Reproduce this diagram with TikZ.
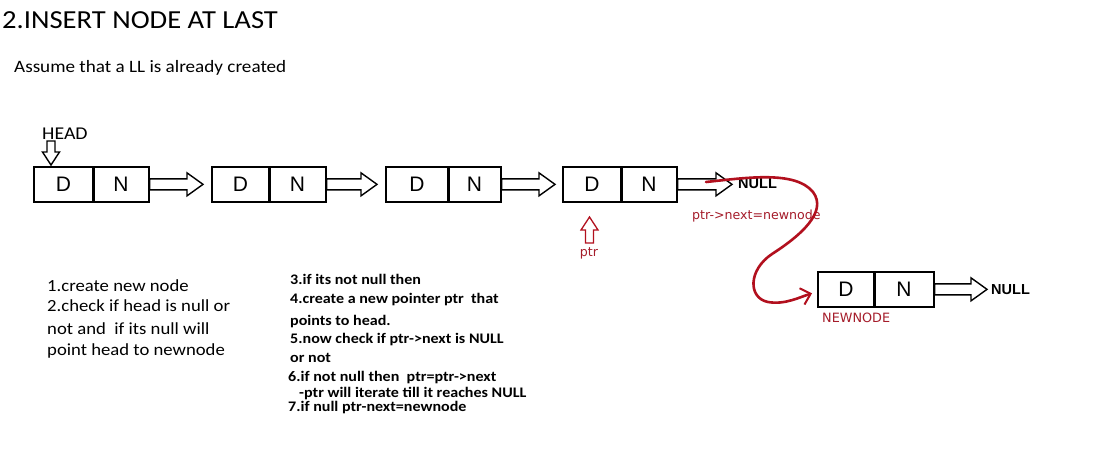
\documentclass[tikz,border=0pt]{standalone}
\usepackage{fontspec}
\setmainfont[FakeStretch=1.1]{Carlito}
\newfontfamily\dejavu{DejaVu Sans}
\newfontfamily\arialf{Liberation Sans}
\usetikzlibrary{arrows.meta,calc}
\definecolor{redc}{RGB}{178,16,30}
\definecolor{redt}{RGB}{165,28,42}
% horizontal hollow block arrow from node #1 (east) to node #2 (west)
\newcommand\harrow[2]{\draw[blk] let \p1=(#1.east),\p2=(#2.west) in
  (\x1,\y1-5.5pt) -- (\x2-16pt,\y1-5.5pt) -- (\x2-16pt,\y1-11.5pt) -- (\x2,\y1)
  -- (\x2-16pt,\y1+11.5pt) -- (\x2-16pt,\y1+5.5pt) -- (\x1,\y1+5.5pt) -- cycle;}
% vertical hollow block arrow from coordinate #1 (tail) to #2 (tip), #3 style
\newcommand\varrow[3]{\draw[blk,#3] let \p1=(#1),\p2=(#2),\n1={(\y2>\y1)?1:-1} in
  (\x1-4pt,\y1) -- (\x1-4pt,\y2-\n1*13pt) -- (\x1-8.5pt,\y2-\n1*13pt) -- (\x2,\y2)
  -- (\x1+8.5pt,\y2-\n1*13pt) -- (\x1+4pt,\y2-\n1*13pt) -- (\x1+4pt,\y1) -- cycle;}
\begin{document}
\begin{tikzpicture}[x=1pt,y=-1pt,
  half/.style={draw,line width=1.7pt,minimum height=35pt,inner sep=0pt,anchor=north west,
     font=\arialf\fontsize{21}{21}\selectfont},
  blk/.style={draw,line width=1.4pt,fill=white,line join=miter},
  txt/.style={anchor=base west,inner sep=0pt},
  divider/.style={line width=2.6pt},
  stepa/.style={txt,font=\fontsize{17}{17}\selectfont},
  stepb/.style={txt,font=\bfseries\fontsize{14.6}{14.6}\selectfont},
  redlbl/.style={txt,text=redt,font=\dejavu\fontsize{12.6}{12.6}\selectfont},
  nulllbl/.style={txt,font=\arialf\bfseries\fontsize{14.5}{14.5}\selectfont},
]
\useasboundingbox[fill=white] (0,0) rectangle (1100,471);

% titles
\node[txt,font=\fontsize{26}{26}\selectfont] (title) at (2,28) {2.INSERT NODE AT LAST};
\node[txt,font=\fontsize{17.4}{17.4}\selectfont] (assume) at (14,72) {Assume that a LL is already created};

% list nodes
\node[half,minimum width=59pt] (d1) at (33,166) {D};
\node[half,minimum width=56pt] (n1) at (92,166) {N};
\node[half,minimum width=57pt] (d2) at (211,166) {D};
\node[half,minimum width=57pt] (n2) at (268,166) {N};
\node[half,minimum width=62pt] (d3) at (385,166) {D};
\node[half,minimum width=53pt] (n3) at (447,166) {N};
\node[half,minimum width=58pt] (d4) at (562,166) {D};
\node[half,minimum width=56pt] (n4) at (620,166) {N};
\node[half,minimum width=56pt] (d5) at (817,271) {D};
\node[half,minimum width=60pt] (n5) at (873,271) {N};
\foreach \b in {d1,d2,d3,d4,d5}{\draw[divider] (\b.north east) -- (\b.south east);}

% NULL labels
\node[nulllbl] (null1) at (738,188.5) {NULL};
\node[nulllbl] (null2) at (991,294) {NULL};

% block arrows
\coordinate (t2) at ($(d2.west)+(-8,0)$);
\coordinate (t3) at ($(d3.west)+(-8,0)$);
\coordinate (t4) at ($(d4.west)+(-7,0)$);
\coordinate (t5) at ($(null1.west)+(-6,-5)$);
\coordinate (t6) at ($(null2.west)+(-4,-5)$);
\harrow{n1}{t2}
\harrow{n2}{t3}
\harrow{n3}{t4}
\harrow{n4}{t5}
\harrow{n5}{t6}

% HEAD
\node[txt,font=\fontsize{18}{18}\selectfont] (head) at (42,139) {HEAD};
\coordinate (hs) at (51,141);
\coordinate (ht) at (51,165);
\varrow{hs}{ht}{}

% ptr
\coordinate (ps) at (589.5,243);
\coordinate (pe) at (589.5,217);
\varrow{ps}{pe}{draw=redc,line width=1.3pt}
\node[redlbl,anchor=base] (ptr) at (589,256) {ptr};

% labels
\node[redlbl] (pnext) at (692,219.5) {ptr->next=newnode};
\node[redlbl,font=\dejavu\fontsize{12.8}{12.8}\selectfont] (newlbl) at (822,322) {NEWNODE};

% red curve
\coordinate (cs) at (706,182);
\coordinate (ce) at ($(d5.west)+(-5,4)$);
\draw[redc,line width=2.6pt,line cap=round,-{Straight Barb[length=9pt,width=17pt,line width=2pt]}]
  (cs) .. controls (745,178) and (795,170) .. (813,192)
  .. controls (828,212) and (800,236) .. (772,254)
  .. controls (748,270) and (748,298) .. (768,302)
  .. controls (785,305) and (800,297) .. (ce);

% step texts, block 1
\node[stepa] (a1) at (47,291) {1.create new node};
\node[stepa] (a2) at (47,311) {2.check if head is null or};
\node[stepa] (a3) at (47,334) {not and\ \ if its null will};
\node[stepa] (a4) at (47,355) {point head to newnode};

% step texts, block 2
\node[stepb] (b1) at (290,284) {3.if its not null then};
\node[stepb] (b2) at (290,303) {4.create a new pointer ptr\ \ that};
\node[stepb] (b3) at (290,325) {points to head.};
\node[stepb] (b4) at (290,343) {5.now check if ptr->next is NULL};
\node[stepb] (b5) at (290,362) {or not};
\node[stepb] (b6) at (288,381) {6.if not null then\ \ ptr=ptr->next};
\node[stepb] (b7) at (299,397) {-ptr will iterate till it reaches NULL};
\node[stepb] (b8) at (288,411) {7.if null ptr-next=newnode};
\end{tikzpicture}
\end{document}
